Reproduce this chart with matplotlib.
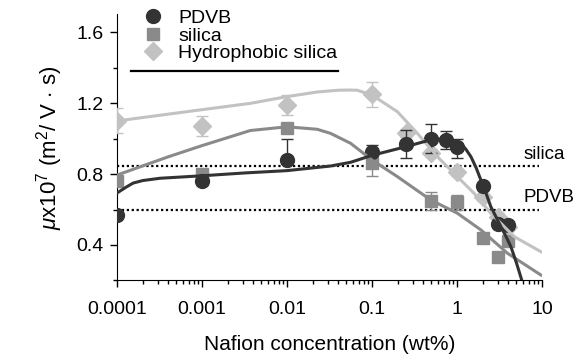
import matplotlib
matplotlib.use("Agg")
import matplotlib.pyplot as plt
from matplotlib.lines import Line2D
from matplotlib.ticker import FixedLocator, MultipleLocator, NullFormatter

plt.rcParams["font.family"] = "Liberation Sans"
plt.rcParams["mathtext.fontset"] = "custom"
plt.rcParams["mathtext.rm"] = "Liberation Sans"
plt.rcParams["mathtext.it"] = "Liberation Sans:italic"

# measured points (wt%, mobility x1e7)
pdvb_x = [0.0001, 0.001, 0.01, 0.1, 0.25, 0.5, 0.75, 1, 2, 3, 4]
pdvb_y = [0.57, 0.76, 0.88, 0.925, 0.97, 1.00, 0.99, 0.95, 0.73, 0.52, 0.51]
pdvb_lo = [0.02, 0.02, 0.0, 0.02, 0.08, 0.08, 0.05, 0.06, 0.02, 0.02, 0.02]
pdvb_hi = [0.02, 0.02, 0.12, 0.04, 0.08, 0.08, 0.05, 0.05, 0.02, 0.02, 0.02]

silica_x = [0.0001, 0.001, 0.01, 0.1, 0.5, 1, 2, 3, 4]
silica_y = [0.76, 0.80, 1.06, 0.86, 0.65, 0.64, 0.44, 0.335, 0.42]
silica_err = [0.02, 0.02, 0.02, 0.07, 0.05, 0.04, 0.02, 0.02, 0.02]

hydro_x = [0.0001, 0.001, 0.01, 0.1, 0.25, 0.5, 1, 2, 3, 4]
hydro_y = [1.10, 1.07, 1.19, 1.25, 1.03, 0.92, 0.81, 0.67, 0.56, 0.50]
hydro_err = [0.07, 0.055, 0.055, 0.07, 0.02, 0.02, 0.02, 0.02, 0.02, 0.02]

# fitted curves
pdvb_fit_x = [0.0001, 0.00013, 0.000155, 0.0002, 0.00032, 0.001, 0.0032, 0.01, 0.0325,
              0.056, 0.1, 0.16, 0.256, 0.38, 0.49, 0.64, 0.845, 1.0, 1.11, 1.27,
              1.46, 1.68, 1.91, 2.2, 2.5, 2.9, 3.29, 3.8, 4.31, 5.0, 5.77]
pdvb_fit_y = [0.693, 0.728, 0.749, 0.763, 0.776, 0.790, 0.806, 0.819, 0.845,
              0.866, 0.905, 0.930, 0.955, 0.978, 0.992, 0.997, 0.992, 0.984, 0.971, 0.94,
              0.897, 0.835, 0.766, 0.690, 0.616, 0.555, 0.503, 0.445, 0.39, 0.30, 0.203]

silica_fit_x = [0.0001, 0.00039, 0.001, 0.00164, 0.0037, 0.01, 0.0226, 0.0325, 0.056,
                0.1, 0.199, 0.49, 1.01, 1.91, 3.94, 9.7]
silica_fit_y = [0.794, 0.895, 0.960, 0.992, 1.045, 1.066, 1.052, 1.029, 0.973,
                0.879, 0.785, 0.654, 0.579, 0.485, 0.353, 0.231]

hydro_fit_x = [0.0001, 0.00095, 0.0037, 0.01, 0.0226, 0.04, 0.056, 0.067, 0.1,
               0.199, 0.342, 0.589, 1.01, 1.59, 2.5, 4.71, 9.73]
hydro_fit_y = [1.099, 1.161, 1.198, 1.236, 1.262, 1.272, 1.273, 1.272, 1.245,
               1.151, 1.029, 0.897, 0.785, 0.691, 0.579, 0.447, 0.362]

# horizontal reference levels
ref_names = ["silica", "PDVB"]
ref_levels = [0.845, 0.60]
ref_x = [0.0001, 9.2]

xticks = [0.0001, 0.001, 0.01, 0.1, 1, 10]
xticklabels = ["0.0001", "0.001", "0.01", "0.1", "1", "10"]

c_pdvb = "#333333"
c_silica = "#8a8a8a"
c_hydro = "#c2c2c2"

fig = plt.figure(figsize=(5.86, 3.61), dpi=100)
ax = fig.add_axes([0.1997, 0.223, 0.7252, 0.7375])

ax.set_xscale("log")
ax.set_xlim(0.0001, 10)
ax.set_ylim(0.2, 1.7)

for lvl in ref_levels:
    ax.plot(ref_x, [lvl, lvl], color="black", ls=(0, (1, 1.2)), lw=1.6, zorder=1)
for name, lvl in zip(ref_names, ref_levels):
    ax.text(6.0, lvl + 0.018, name, fontsize=13.5, ha="left", va="bottom", clip_on=False)

ax.errorbar(hydro_x, hydro_y, yerr=hydro_err, fmt="D", ms=9, color=c_hydro,
            ecolor=c_hydro, elinewidth=1, capsize=4, zorder=3)
ax.errorbar(silica_x, silica_y, yerr=silica_err, fmt="s", ms=8.5, color=c_silica,
            ecolor=c_silica, elinewidth=1, capsize=4, zorder=4)
ax.errorbar(pdvb_x, pdvb_y, yerr=[pdvb_lo, pdvb_hi], fmt="o", ms=10, color=c_pdvb,
            ecolor=c_pdvb, elinewidth=1, capsize=4, zorder=5)

ax.plot(hydro_fit_x, hydro_fit_y, color=c_hydro, lw=2.2, zorder=6)
ax.plot(silica_fit_x, silica_fit_y, color=c_silica, lw=2.2, zorder=6)
ax.plot(pdvb_fit_x, pdvb_fit_y, color=c_pdvb, lw=2.2, zorder=7)

ax.spines["top"].set_visible(False)
ax.spines["right"].set_visible(False)
ax.xaxis.set_major_locator(FixedLocator(xticks))
ax.set_xticklabels(xticklabels)
ax.xaxis.set_minor_formatter(NullFormatter())
ax.yaxis.set_major_locator(FixedLocator([0.4, 0.8, 1.2, 1.6]))
ax.yaxis.set_minor_locator(MultipleLocator(0.2))
ax.tick_params(which="major", direction="out", length=5, width=1, labelsize=14)
ax.tick_params(axis="x", which="major", pad=10)
ax.tick_params(axis="y", which="major", pad=5)
ax.tick_params(which="minor", direction="out", length=3, width=1)

ax.set_xlabel("Nafion concentration (wt%)", fontsize=15, labelpad=12)
ax.set_ylabel(r"$\mathit{\mu}$x10$^{7}$ (m$^{2}$/ V $\cdot$ s)", fontsize=16, labelpad=8)

handles = [
    Line2D([], [], marker="o", ls="none", ms=10, color=c_pdvb),
    Line2D([], [], marker="s", ls="none", ms=8.5, color=c_silica),
    Line2D([], [], marker="D", ls="none", ms=9, color=c_hydro),
]
fig.legend(handles, ["PDVB", "silica", "Hydrophobic silica"], loc="upper left",
           bbox_to_anchor=(0.218, 1.012), frameon=False, fontsize=14,
           handlelength=1.2, handletextpad=0.7, labelspacing=0.0, borderpad=0.2)
fig.add_artist(Line2D([131 / 586, 338 / 586], [1 - 71 / 361] * 2,
                      color="black", lw=1.6, transform=fig.transFigure))

fig.savefig("out.png", dpi=100)
